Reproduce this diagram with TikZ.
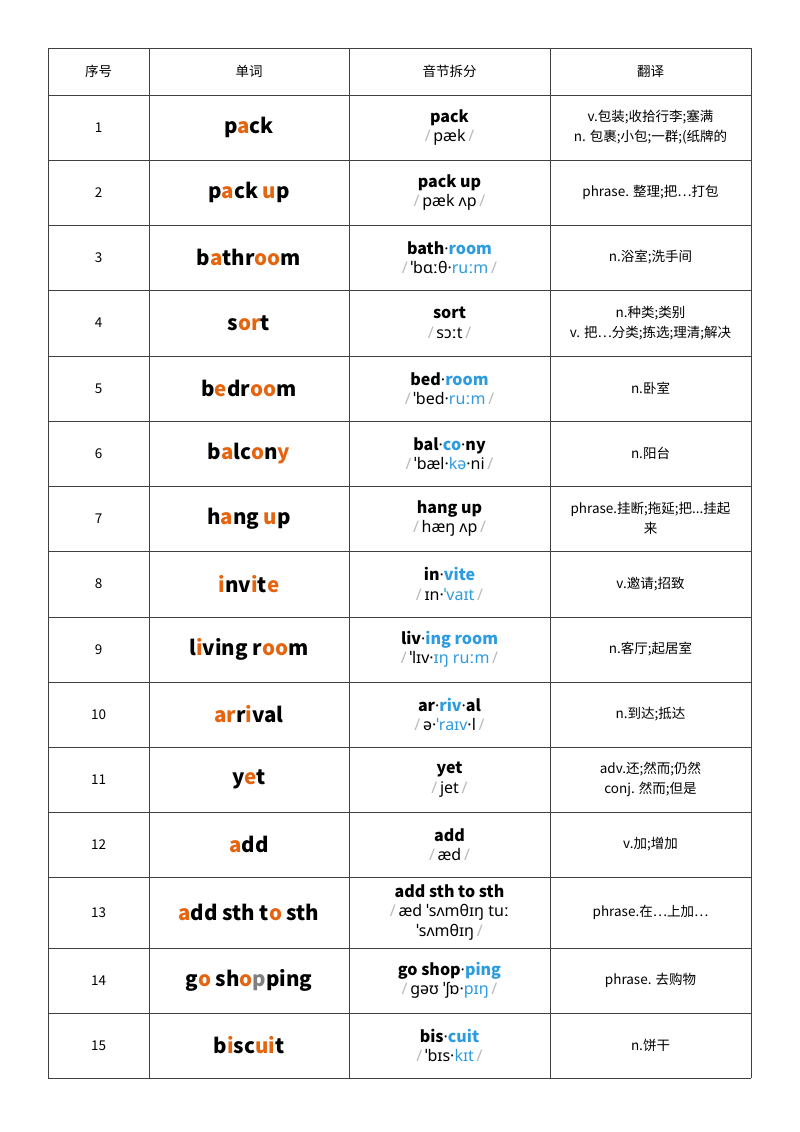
\documentclass[tikz,border=0pt]{standalone}
\usepackage{fontspec}
\setmainfont{Noto Sans CJK SC}
\newfontfamily\ipa{Noto Sans}
\definecolor{wo}{HTML}{E5640F}
\definecolor{sb}{HTML}{2C9BE0}
\definecolor{sl}{HTML}{BBBBBB}
\newcommand\ora[1]{\textcolor{wo}{#1}}
\newcommand\blu[1]{\textcolor{sb}{#1}}
\newcommand\gry[1]{\textcolor{gray}{#1}}
\newcommand\sls{\textcolor{sl}{/}}
\newcommand\dt{{\ipa\mdseries·}}
\newcommand\ph[1]{{\ipa\sls\,#1\,\sls}}
\tikzset{
 word/.style={font=\fontsize{20.5}{24}\selectfont\bfseries},
 syl/.style={align=center,font=\fontsize{16}{19.5}\selectfont},
 tr/.style={align=center,font=\fontsize{13.5}{20}\selectfont},
 hd/.style={font=\fontsize{13.5}{16}\selectfont},
 grid/.style={draw=black!75,line width=0.6pt}
}
\begin{document}
\begin{tikzpicture}[x=1pt,y=-1pt]
\useasboundingbox[fill=white] (0,0) rectangle (800,1132);
\foreach \y in {48,95,160,225,290,356,421,486,551,617,682,747,812,877,948,1013,1078}
  \draw[grid] (48,\y) -- (751,\y);
\foreach \x in {48,149,349,550,751}
  \draw[grid] (\x,48) -- (\x,1078);
\node[hd] (h1) at (98.5,71.5) {序号};
\node[hd] (h2) at (249,71.5) {单词};
\node[hd] (h3) at (449.5,71.5) {音节拆分};
\node[hd] (h4) at (650.5,71.5) {翻译};
\newcommand\row[5]{%
 \node[hd] (n#1) at (98.5,#2) {#1};
 \node[word] (w#1) at (249,#2) {#3};
 \node[syl] (s#1) at (449.5,#2) {#4};
 \node[tr] (t#1) at (650.5,#2) {#5};}
\row{1}{127.5}{p\ora{a}ck}{\textbf{pack}\\\ph{pæk}}{v.包装;收拾行李;塞满\\n. 包裹;小包;一群;(纸牌的}
\row{2}{192.5}{p\ora{a}ck \ora{u}p}{\textbf{pack up}\\\ph{pæk ʌp}}{phrase. 整理;把…打包}
\row{3}{257.5}{b\ora{a}thr\ora{oo}m}{\textbf{bath\dt\blu{room}}\\\ph{ˈbɑːθ·\blu{ruːm}}}{n.浴室;洗手间}
\row{4}{323}{s\ora{or}t}{\textbf{sort}\\\ph{sɔːt}}{n.种类;类别\\v. 把…分类;拣选;理清;解决}
\row{5}{388.5}{b\ora{e}dr\ora{oo}m}{\textbf{bed\dt\blu{room}}\\\ph{ˈbed·\blu{ruːm}}}{n.卧室}
\row{6}{453.5}{b\ora{a}lc\ora{o}n\ora{y}}{\textbf{bal\dt\blu{co}\dt ny}\\\ph{ˈbæl·\blu{kə}·ni}}{n.阳台}
\row{7}{518.5}{h\ora{a}ng \ora{u}p}{\textbf{hang up}\\\ph{hæŋ ʌp}}{phrase.挂断;拖延;把...挂起\\来}
\row{8}{584}{\ora{i}nv\ora{i}t\ora{e}}{\textbf{in\dt\blu{vite}}\\\ph{ɪn·\blu{ˈvaɪt}}}{v.邀请;招致}
\row{9}{649.5}{l\ora{i}ving r\ora{oo}m}{\textbf{liv\dt\blu{ing room}}\\\ph{ˈlɪv·\blu{ɪŋ ruːm}}}{n.客厅;起居室}
\row{10}{714.5}{\ora{ar}r\ora{i}val}{\textbf{ar\dt\blu{riv}\dt al}\\\ph{ə·\blu{ˈraɪv}·l}}{n.到达;抵达}
\row{11}{779.5}{y\ora{e}t}{\textbf{yet}\\\ph{jet}}{adv.还;然而;仍然\\conj. 然而;但是}
\row{12}{844.5}{\ora{a}dd}{\textbf{add}\\\ph{æd}}{v.加;增加}
\row{13}{912.5}{\ora{a}dd sth t\ora{o} sth}{\textbf{add sth to sth}\\{\ipa\sls\,æd ˈsʌmθɪŋ tuː}\\{\ipa ˈsʌmθɪŋ\,\sls}}{phrase.在…上加…}
\row{14}{980.5}{g\ora{o} sh\ora{o}\gry{p}ping}{\textbf{go shop\dt\blu{ping}}\\\ph{ɡəʊ ˈʃɒ·\blu{pɪŋ}}}{phrase. 去购物}
\row{15}{1045.5}{b\ora{i}sc\ora{ui}t}{\textbf{bis\dt\blu{cuit}}\\\ph{ˈbɪs·\blu{kɪt}}}{n.饼干}
\end{tikzpicture}
\end{document}
